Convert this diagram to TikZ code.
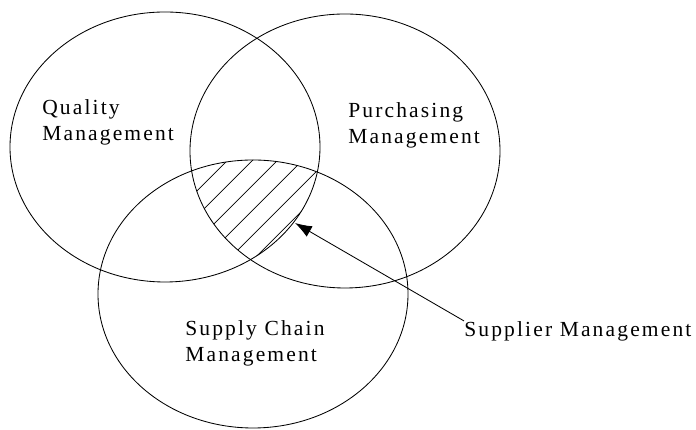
\documentclass[tikz,border=0pt]{standalone}
\usepackage{fontspec}
\setmainfont{Liberation Serif}[LetterSpace=10]
\usetikzlibrary{arrows.meta}

\begin{document}
\begin{tikzpicture}[scale=1,
	set/.style={draw=black, line width=0.6pt},
	lbl/.style={align=left, anchor=west, inner sep=0pt, font=\fontsize{15.3}{18.4}\selectfont}]
	\def\rx{3.875}
	\def\ry{3.4}
	\def\gap{0.625}
	
	\useasboundingbox (0, 0) rectangle (17.4, 10.75);
	
	\coordinate (Q) at (4.125, 7.075);
	\coordinate (P) at (8.625, 6.975);
	\coordinate (S) at (6.325, 3.4);
	\coordinate (tip) at (7.375, 5.175);
	
	% hatched common part
	\begin{scope}
		\clip (Q) ellipse [x radius=\rx, y radius=3.375];
		\clip (P) ellipse [x radius=\rx, y radius=3.425];
		\clip (S) ellipse [x radius=\rx, y radius=3.35];
		\foreach \c in {-2.3, -1.675, ..., 4.6}{
			\draw[line width=0.5pt] (\c, 0) -- ++(11, 11);
		}
	\end{scope}
	
	\draw[set] (Q) ellipse [x radius=\rx, y radius=3.375];
	\draw[set] (P) ellipse [x radius=\rx, y radius=3.425];
	\draw[set] (S) ellipse [x radius=\rx, y radius=3.35];
	
	\node[lbl] (qm) at (1.05, 7.69) {Quality\\Management};
	\node[lbl] (pm) at (8.7, 7.61) {Purchasing\\Management};
	\node[lbl] (scm) at (4.625, 2.16) {Supply Chain\\Management};
	\node[lbl] (sm) at (11.6, 2.475) {Supplier Management};
	
	\draw[line width=0.6pt, -{Latex[length=12pt, width=8.5pt]}] (sm.north west) -- (tip);
\end{tikzpicture}
\end{document}
